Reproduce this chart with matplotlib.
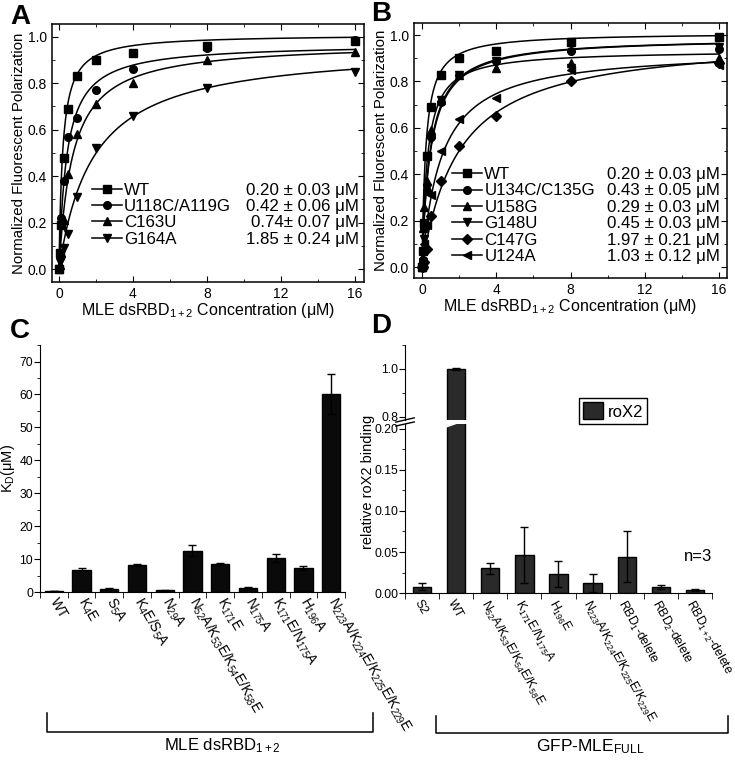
import numpy as np
import matplotlib
matplotlib.use("Agg")
import matplotlib.pyplot as plt
from matplotlib.lines import Line2D
from matplotlib.transforms import blended_transform_factory

plt.rcParams["font.family"] = ["Liberation Sans", "DejaVu Sans"]
plt.rcParams["mathtext.fontset"] = "custom"
plt.rcParams["mathtext.rm"] = "Liberation Sans"
plt.rcParams["mathtext.it"] = "Liberation Sans:italic"
plt.rcParams["mathtext.default"] = "regular"

# ---- data -------------------------------------------------------------
conc = [0, 0.0625, 0.125, 0.25, 0.5, 1, 2, 4, 8, 16]

a_names = ["WT", "U118C/A119G", "C163U", "G164A"]
a_kd_text = ["0.20 ± 0.03 μM", "0.42 ± 0.06 μM", "0.74± 0.07 μM", "1.85 ± 0.24 μM"]
a_kd = [0.20, 0.42, 0.74, 1.85]
a_bmax = [1.01, 0.97, 0.975, 0.96]
a_wt = [0.0, 0.07, 0.19, 0.48, 0.69, 0.83, 0.90, 0.93, 0.96, 0.98]
a_u118 = [0.0, 0.07, 0.22, 0.38, 0.57, 0.65, 0.77, 0.86, 0.95, 0.985]
a_c163 = [0.0, 0.02, 0.07, 0.21, 0.41, 0.58, 0.71, 0.80, 0.90, 0.935]
a_g164 = [0.0, 0.03, 0.04, 0.09, 0.15, 0.31, 0.52, 0.66, 0.78, 0.85]

b_names = ["WT", "U134C/C135G", "U158G", "G148U", "C147G", "U124A"]
b_kd_text = ["0.20 ± 0.03 μM", "0.43 ± 0.05 μM", "0.29 ± 0.03 μM",
             "0.45 ± 0.03 μM", "1.97 ± 0.21 μM", "1.03 ± 0.12 μM"]
b_kd = [0.20, 0.43, 0.29, 0.45, 1.97, 1.03]
b_bmax = [1.01, 0.99, 0.935, 0.99, 0.995, 0.94]
b_wt = [0.0, 0.07, 0.19, 0.48, 0.69, 0.83, 0.90, 0.93, 0.97, 0.99]
b_u134 = [0.0, 0.03, 0.17, 0.33, 0.56, 0.71, 0.83, 0.89, 0.93, 0.94]
b_u158 = [0.0, 0.17, 0.26, 0.37, 0.59, 0.72, 0.83, 0.86, 0.88, 0.90]
b_g148 = [0.0, 0.02, 0.12, 0.34, 0.55, 0.72, 0.83, 0.89, 0.86, 0.95]
b_c147 = [0.0, 0.0, 0.02, 0.08, 0.22, 0.37, 0.52, 0.65, 0.80, 0.88]
b_u124 = [0.0, 0.01, 0.10, 0.18, 0.31, 0.50, 0.64, 0.73, 0.85, 0.87]

c_labels = ["WT", "K$_4$E", "S$_5$A", "K$_4$E/S$_5$A", "N$_{29}$A",
            "N$_{52}$A/K$_{53}$E/K$_{54}$E/K$_{58}$E", "K$_{171}$E", "N$_{175}$A",
            "K$_{171}$E/N$_{175}$A", "H$_{196}$A",
            "N$_{223}$A/K$_{224}$E/K$_{225}$E/K$_{229}$E"]
c_kd = [0.3, 6.8, 1.0, 8.2, 0.5, 12.6, 8.4, 1.1, 10.4, 7.4, 60.1]
c_err = [0.1, 0.5, 0.1, 0.4, 0.1, 1.7, 0.3, 0.3, 1.2, 0.6, 6.1]

d_labels = ["S2", "WT", "N$_{52}$A/K$_{53}$E/K$_{54}$E/K$_{58}$E",
            "K$_{171}$E/N$_{175}$A", "H$_{196}$E",
            "N$_{223}$A/K$_{224}$E/K$_{225}$E/K$_{229}$E",
            "RBD$_1$-delete", "RBD$_2$-delete", "RBD$_{1+2}$-delete"]
d_val = [0.0077, 1.0, 0.030, 0.046, 0.023, 0.012, 0.044, 0.0069, 0.0033]
d_err = [0.004, 0.003, 0.007, 0.034, 0.016, 0.011, 0.031, 0.0025, 0.0012]

markers = ["s", "o", "^", "v", "D", "<"]

fig = plt.figure(figsize=(7.35, 7.6), dpi=100)


def binding_panel(ax, series, names, kd_text, kd, bmax, xlim, ylim, leg_x, kd_x, leg_top):
    xfit = np.linspace(0, 16, 400)
    handles = []
    for i, ys in enumerate(series):
        ax.plot(conc, ys, linestyle="none", marker=markers[i], color="black", ms=5.5, clip_on=False)
        ax.plot(xfit, bmax[i] * xfit / (kd[i] + xfit), color="black", lw=1.1)
        handles.append(Line2D([], [], color="black", lw=1.1, marker=markers[i], ms=5.5))
    ax.set_xlim(*xlim)
    ax.set_ylim(*ylim)
    ax.set_xticks([0, 4, 8, 12, 16])
    ax.set_xticks(np.arange(2, 16, 4), minor=True)
    ax.set_yticks([0, 0.2, 0.4, 0.6, 0.8, 1.0])
    ax.set_yticks(np.arange(0.1, 1.0, 0.2), minor=True)
    ax.tick_params(which="both", direction="in", top=True, right=True, labelsize=10)
    ax.tick_params(which="major", length=4)
    ax.tick_params(which="minor", length=2.5)
    ax.set_ylabel("Normalized Fluorescent Polarization", fontsize=10.8, labelpad=1)
    ax.set_xlabel("MLE dsRBD$_{1+2}$ Concentration (μM)", fontsize=11.5, labelpad=0)
    for s in ax.spines.values():
        s.set_linewidth(1.1)
    leg1 = ax.legend(handles, names, loc="upper left", bbox_to_anchor=(leg_x, leg_top),
                     frameon=False, fontsize=12.2, labelspacing=0.08, handlelength=1.75,
                     handletextpad=0.15, borderpad=0, borderaxespad=0)
    ax.add_artist(leg1)
    empty = [Line2D([], [], linestyle="none") for _ in names]
    ax.legend(empty, kd_text, loc="upper right", bbox_to_anchor=(kd_x, leg_top),
              frameon=False, fontsize=12.2, labelspacing=0.08, handlelength=0,
              handletextpad=0, borderpad=0, borderaxespad=0, markerfirst=False)


axA = fig.add_axes([0.0707, 0.629, 0.4245, 0.3395])
binding_panel(axA, [a_wt, a_u118, a_c163, a_g164], a_names, a_kd_text, a_kd, a_bmax,
              (-0.38, 16.5), (-0.055, 1.055), 0.128, 0.985, 0.385)

axB = fig.add_axes([0.5633, 0.6342, 0.4259, 0.3355])
binding_panel(axB, [b_wt, b_u134, b_u158, b_g148, b_c147, b_u124], b_names, b_kd_text,
              b_kd, b_bmax, (-0.43, 16.43), (-0.047, 1.052), 0.122, 0.978, 0.435)

# ---- panel C ----------------------------------------------------------
axC = fig.add_axes([0.0544, 0.221, 0.415, 0.325])
xc = np.arange(len(c_labels))
axC.bar(xc, c_kd, width=0.66, color="#0a0a0a", edgecolor="black")
axC.errorbar(xc, c_kd, yerr=c_err, fmt="none", ecolor="black", elinewidth=1, capsize=3)
axC.set_xlim(-0.5, len(c_labels) - 0.5)
axC.set_ylim(0, 75)
axC.set_yticks(np.arange(0, 71, 10))
axC.set_yticks(np.arange(5, 76, 10), minor=True)
axC.set_xticks(xc)
axC.set_xticklabels(c_labels, rotation=-60, ha="left", va="center", rotation_mode="anchor", fontsize=9.8)
axC.set_xticks(np.arange(-0.5, len(c_labels)), minor=True)
axC.tick_params(axis="x", which="major", length=0, pad=5)
axC.tick_params(axis="x", which="minor", length=4, direction="out")
axC.tick_params(axis="y", which="major", length=4, labelsize=8.8, pad=1)
axC.tick_params(axis="y", which="minor", length=2.5)
axC.spines["top"].set_visible(False)
axC.spines["right"].set_visible(False)
axC.set_ylabel("K$_D$(μM)", fontsize=10.5, labelpad=2)

# ---- panel D (broken axis) ---------------------------------------------
axD = fig.add_axes([0.551, 0.2197, 0.4177, 0.2224])
axDh = fig.add_axes([0.551, 0.4474, 0.4177, 0.0987], sharex=axD)
xd = np.arange(len(d_labels))
for ax in (axD, axDh):
    bars = ax.bar(xd, d_val, width=0.54, color="#2a2a2a", edgecolor="black", label="roX2")
    ax.errorbar(xd, d_val, yerr=d_err, fmt="none", ecolor="black", elinewidth=1, capsize=3)
    ax.spines["top"].set_visible(False)
    ax.spines["right"].set_visible(False)
axD.set_xlim(-0.5, len(d_labels) - 0.5)
axD.set_ylim(0, 0.206)
axDh.set_ylim(0.7875, 1.1)
axD.set_yticks([0, 0.05, 0.10, 0.15, 0.20])
axD.set_yticklabels(["0.00", "0.05", "0.10", "0.15", "0.20"])
axD.set_yticks(np.arange(0.025, 0.2, 0.05), minor=True)
axDh.set_yticks([0.8, 1.0])
axDh.set_yticks([0.9, 1.1], minor=True)
axDh.spines["bottom"].set_visible(False)
axDh.tick_params(axis="x", which="both", bottom=False, labelbottom=False)
axD.set_xticks(xd)
axD.set_xticklabels(d_labels, rotation=-61, ha="left", va="top", rotation_mode="anchor", fontsize=8.8)
axD.set_xticks(np.arange(-0.5, len(d_labels)), minor=True)
axD.tick_params(axis="x", which="major", length=0, pad=3)
axD.tick_params(axis="x", which="minor", length=4, direction="out")
for ax in (axD, axDh):
    ax.tick_params(axis="y", which="major", length=4, labelsize=8.8, pad=1)
    ax.tick_params(axis="y", which="minor", length=2.5)

# break marks
for ax, yb in ((axD, 1.0), (axDh, 0.0)):
    dy = 0.012 if ax is axD else 0.028
    ax.plot([-0.03, 0.03], [yb - dy, yb + dy], transform=ax.transAxes, color="black", lw=1, clip_on=False)
tr = blended_transform_factory(axD.transData, fig.transFigure)
axD.plot([0.62, 1.38], [0.4380, 0.4500], transform=tr, color="white", lw=2.2, clip_on=False, zorder=10)

fig.legend(handles=[bars], labels=["roX2"], loc="center", bbox_to_anchor=(613 / 735, 1 - 411 / 760),
           fontsize=12, fancybox=False, edgecolor="black", framealpha=1,
           handlelength=1.2, handleheight=1.2, borderpad=0.25, handletextpad=0.3)
axD.text(0.955, 0.215, "n=3", transform=axD.transAxes, ha="center", va="center", fontsize=12)
fig.text(368 / 735, 1 - 482 / 760, "relative roX2 binding", rotation=90, ha="center", va="center", fontsize=10.5)

# ---- brackets -----------------------------------------------------------
fig.add_artist(Line2D([47 / 735, 47 / 735, 373 / 735, 373 / 735],
                      [1 - 713 / 760, 1 - 732 / 760, 1 - 732 / 760, 1 - 713 / 760], color="black", lw=1.1))
fig.add_artist(Line2D([436 / 735, 436 / 735, 728 / 735, 728 / 735],
                      [1 - 716 / 760, 1 - 733 / 760, 1 - 733 / 760, 1 - 716 / 760], color="black", lw=1.1))
fig.text(222 / 735, 1 - 746 / 760, "MLE dsRBD$_{1+2}$", ha="center", va="center", fontsize=12)
fig.text(590 / 735, 1 - 747 / 760, "GFP-MLE$_{FULL}$", ha="center", va="center", fontsize=12.5)

# ---- panel letters --------------------------------------------------------
for lab, x, y in (("A", 10, 4), ("B", 371, 1), ("C", 10, 318), ("D", 371, 313)):
    fig.text(x / 735, 1 - y / 760, lab, ha="left", va="top", fontsize=20, fontweight="bold")

fig.savefig("out.png", dpi=100)
